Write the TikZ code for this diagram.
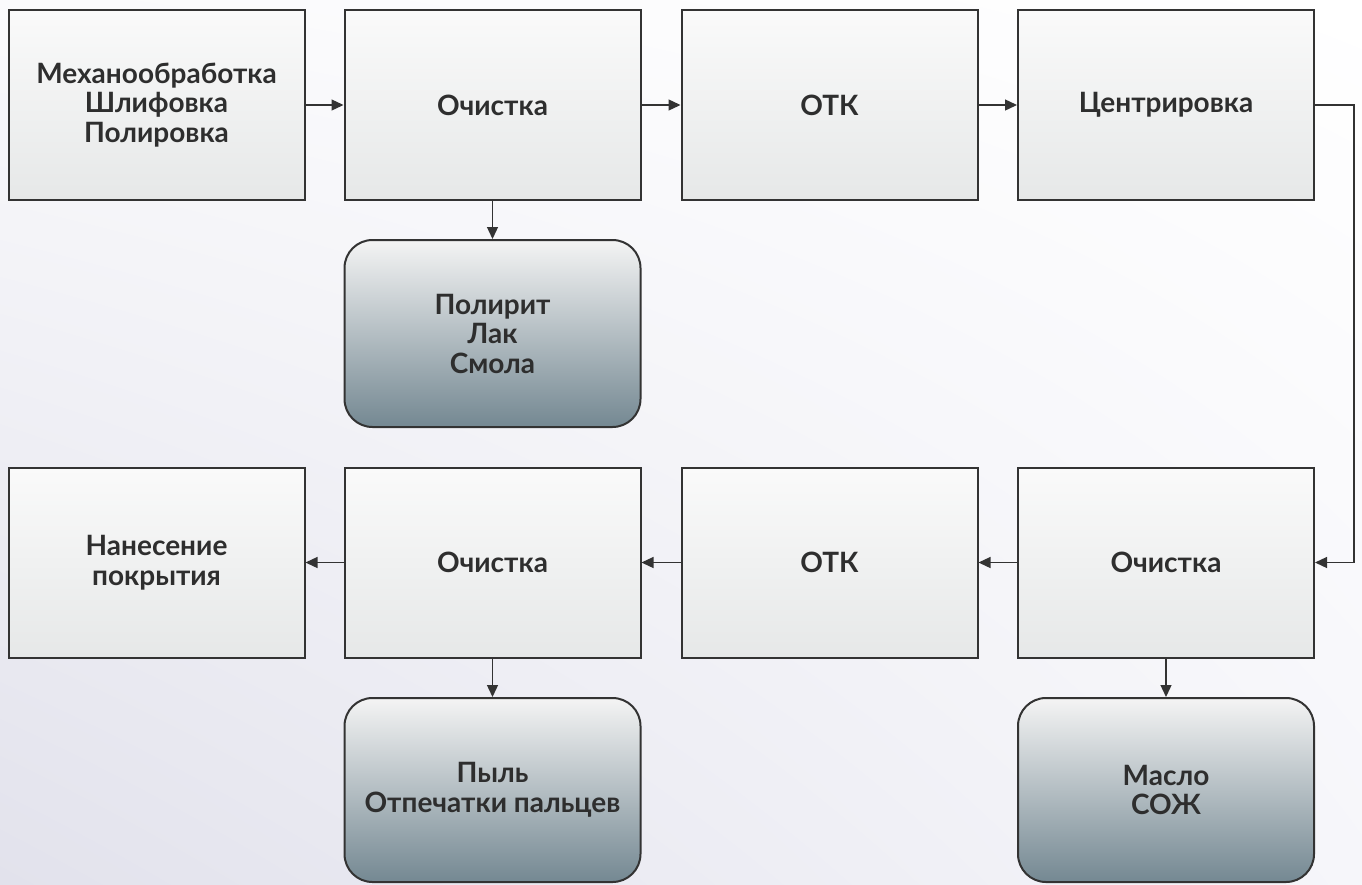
\documentclass[tikz,border=0pt]{standalone}
\usepackage{fontspec}
\setmainfont{Lato}
\usetikzlibrary{arrows.meta,shadings}
\definecolor{txt}{HTML}{2E2E2E}
\definecolor{edge}{HTML}{333333}
\definecolor{boxtop}{HTML}{FAFAFA}
\definecolor{boxbot}{HTML}{E6E8E8}
\definecolor{rtop}{HTML}{F4F4F4}
\definecolor{rbot}{HTML}{748892}
\definecolor{bgl}{HTML}{E2E2EC}
\definecolor{bgr}{HTML}{F6F6FA}
\definecolor{bgul}{HTML}{FAFAFC}
\tikzset{
  stepbox/.style={draw=edge, line width=2pt, top color=boxtop, bottom color=boxbot,
    minimum width=296pt, minimum height=190pt, inner sep=0pt, align=center,
    font=\fontsize{28}{29.5}\selectfont\bfseries, text=txt},
  waste/.style={stepbox, rounded corners=28pt, top color=rtop, bottom color=rbot},
  arr/.style={draw=edge, line width=1.3pt, -{Triangle[length=12pt,width=11pt]}},
}
\begin{document}
\begin{tikzpicture}[x=1pt,y=-1pt]
\useasboundingbox (0,0) rectangle (1362,884);
\shade[upper left=bgul, upper right=white, lower right=bgr, lower left=bgl] (0,0) rectangle (1362,884);
% top row
\node[stepbox] (a1) at (156.5,105) {Механообработка\\Шлифовка\\Полировка};
\node[stepbox] (a2) at (492.5,105) {Очистка};
\node[stepbox] (a3) at (829.5,105) {ОТК};
\node[stepbox] (a4) at (1166,105) {Центрировка};
% bottom row
\node[stepbox] (b1) at (156.5,562.5) {Нанесение\\покрытия};
\node[stepbox] (b2) at (492.5,562.5) {Очистка};
\node[stepbox] (b3) at (829.5,562.5) {ОТК};
\node[stepbox] (b4) at (1166,562.5) {Очистка};
% waste boxes
\node[waste, minimum height=187pt] (w1) at (492.5,333.5) {Полирит\\Лак\\Смола};
\node[waste, minimum height=184pt] (w2) at (492.5,790) {Пыль\\Отпечатки пальцев};
\node[waste, minimum height=184pt] (w3) at (1166,790) {Масло\\СОЖ};
% connectors
\draw[arr] (a1) -- (a2);
\draw[arr] (a2) -- (a3);
\draw[arr] (a3) -- (a4);
\coordinate (turn) at (1354,105);
\draw[arr] (a4.east) -- (turn) |- (b4.east);
\draw[arr] (b4) -- (b3);
\draw[arr] (b3) -- (b2);
\draw[arr] (b2) -- (b1);
\draw[arr] (a2) -- (w1);
\draw[arr] (b2) -- (w2);
\draw[arr] (b4) -- (w3);
\end{tikzpicture}
\end{document}
